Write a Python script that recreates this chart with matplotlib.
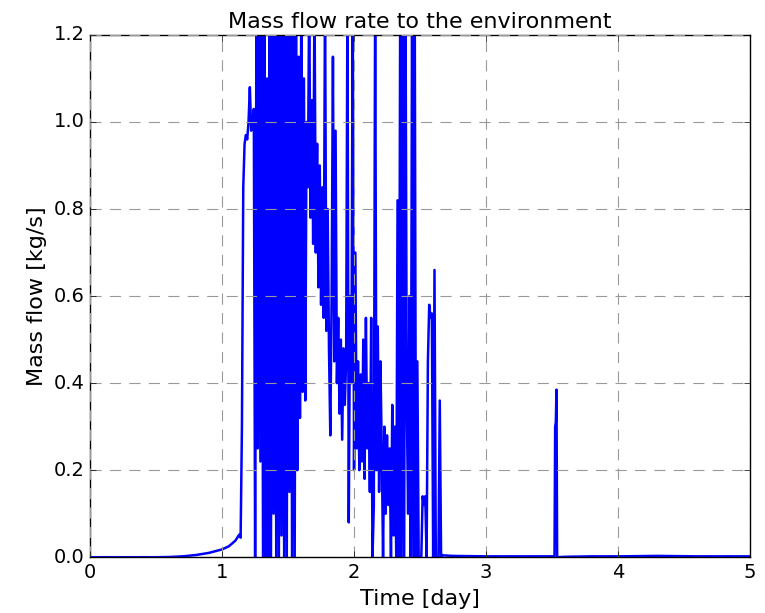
import numpy as np
import matplotlib
matplotlib.use("Agg")
import matplotlib.pyplot as plt

# quiet rise before release (day, kg/s)
t_start = [0.0, 0.5, 0.6, 0.7, 0.8, 0.9, 1.0, 1.05, 1.1, 1.13, 1.14,
           1.15, 1.16, 1.17, 1.18, 1.19, 1.20, 1.21, 1.22, 1.23, 1.24]
q_start = [0.0, 0.0, 0.0005, 0.002, 0.005, 0.01, 0.018, 0.025, 0.038, 0.052, 0.045,
           0.30, 0.85, 0.95, 0.97, 0.96, 1.00, 1.08, 0.98, 1.00, 1.03]

# oscillating phase sampled every 0.01 day from 1.25
q_burst = [
    0.00, 1.30, 0.25, 1.30, 0.22, 1.30, 0.00, 1.30, 0.00, 1.10,
    0.00, 1.30, 0.00, 1.30, 0.10, 1.30, 0.00, 1.30, 0.00, 1.25,
    0.05, 1.30, 0.00, 1.30, 0.00, 1.30, 0.15, 1.30, 0.00, 1.30,
    0.00, 1.30, 0.20, 1.15, 0.32, 1.30, 0.38, 1.10, 0.36, 1.00,
    0.85, 1.30, 0.78, 1.05, 0.72, 1.30, 0.70, 0.95, 0.62, 0.90,
    0.58, 0.85, 0.55, 1.30, 0.52, 0.80, 0.48, 0.28, 0.60, 1.15,
    0.45, 0.98, 0.40, 0.55, 0.33, 0.50, 0.27, 0.48, 0.35, 0.45,
    1.30, 0.08, 0.60, 0.40, 1.30, 0.20, 0.70, 0.25, 0.45, 0.20,
    0.42, 0.22, 0.50, 0.18, 0.55, 0.25, 0.40, 0.15, 0.55, 0.00,
    0.12, 1.30, 0.20, 0.53, 0.15, 0.45, 0.25, 0.00, 0.30, 0.10,
    0.28, 0.12, 0.25, 0.00, 0.35, 0.05, 0.30, 0.00, 0.82, 0.00,
    1.30, 0.00, 1.30, 0.00, 1.30, 0.35, 0.10, 0.60, 0.00, 1.30,
    0.00, 1.30, 0.00, 0.45, 0.00, 0.00, 0.00, 0.14, 0.12, 0.14,
    0.00, 0.45, 0.58, 0.55, 0.56, 0.00, 0.66, 0.00, 0.00, 0.00,
    0.36, 0.00, 0.005, 0.004, 0.004,
]
t_burst = np.round(1.25 + 0.01 * np.arange(len(q_burst)), 3)

# tail with the isolated spike near day 3.5
t_tail = [2.75, 3.0, 3.3, 3.52, 3.525, 3.53, 3.535, 3.54, 3.6, 3.8, 4.0, 4.3, 4.6, 4.8, 5.0]
q_tail = [0.003, 0.002, 0.002, 0.002, 0.30, 0.31, 0.385, 0.0, 0.001, 0.002, 0.002, 0.003, 0.002, 0.002, 0.002]

time = np.concatenate([t_start, t_burst, t_tail])
flow = np.concatenate([q_start, q_burst, q_tail])

plt.style.use("classic")
fig = plt.figure(figsize=(7.65, 6.13), dpi=100)
ax = fig.add_axes([0.118, 0.091, 0.862, 0.852])
ax.plot(time, flow, color="b", lw=1.8)
ax.set_xlim(0, 5)
ax.set_ylim(0, 1.2)
ax.set_yticks([0.0, 0.2, 0.4, 0.6, 0.8, 1.0, 1.2])
ax.grid(True, color="#999999", linestyle="--", dashes=(8, 6), lw=0.8)
ax.tick_params(labelsize=14)
ax.set_title("Mass flow rate to the environment", fontsize=16)
ax.set_xlabel("Time [day]", fontsize=16)
ax.set_ylabel("Mass flow [kg/s]", fontsize=16)
fig.savefig("out.png", dpi=100, facecolor="white")
plt.close(fig)
